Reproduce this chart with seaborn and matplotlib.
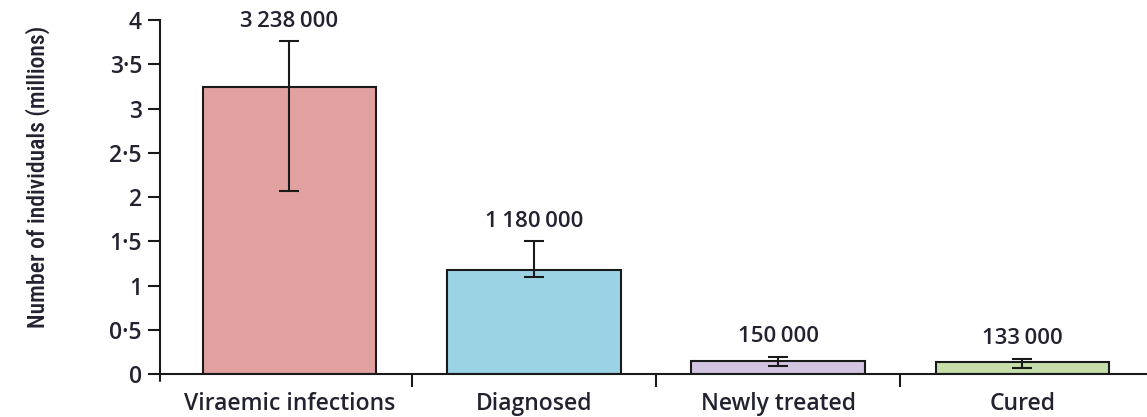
import matplotlib
matplotlib.use("Agg")
import matplotlib.pyplot as plt
from matplotlib import font_manager
import seaborn as sns
import pandas as pd
import numpy as np

# Cascade of care data (number of individuals)
categories = ["Viraemic infections", "Diagnosed", "Newly treated", "Cured"]
counts = [3238000, 1180000, 150000, 133000]
ci_low = [2070000, 1100000, 90000, 72000]
ci_high = [3760000, 1500000, 196000, 174000]
value_labels = ["3\u2009238\u2009000", "1\u2009180\u2009000", "150\u2009000", "133\u2009000"]
bar_colors = ["#E1A1A0", "#9CD3E4", "#D3C4E2", "#C5DEAA"]
y_ticks = [0, 0.5, 1, 1.5, 2, 2.5, 3, 3.5, 4]
y_tick_labels = ["0", "0\u00b75", "1", "1\u00b75", "2", "2\u00b75", "3", "3\u00b75", "4"]

sns.set_theme(style="ticks")
installed = {f.name for f in font_manager.fontManager.ttflist}
narrow = next((f for f in ["Roboto Condensed", "Liberation Sans Narrow", "DejaVu Sans Condensed"]
               if f in installed), "Liberation Sans")
plt.rcParams["font.family"] = ["Open Sans", "DejaVu Sans"]
txt = "#222230"
ink = "#1a1a1a"

df = pd.DataFrame({"stage": categories, "millions": np.array(counts) / 1e6})

fig = plt.figure(figsize=(11.47, 4.17), dpi=100)
ax = fig.add_axes([0.1395, 0.1031, 0.8605, 0.8489])

sns.barplot(data=df, x="stage", y="millions", hue="stage", palette=bar_colors,
            order=categories, width=0.71, saturation=1, edgecolor=ink,
            linewidth=1.5, legend=False, ax=ax)

x = np.arange(len(categories))
vals = np.array(counts) / 1e6
lo = vals - np.array(ci_low) / 1e6
hi = np.array(ci_high) / 1e6 - vals
ax.errorbar(x, vals, yerr=[lo, hi], fmt="none", ecolor=ink,
            elinewidth=1.5, capsize=7, capthick=1.5, zorder=5)

for xi, top, lab in zip(x, np.array(ci_high) / 1e6, value_labels):
    ax.annotate(lab, (xi, top), xytext=(0, 14.5), textcoords="offset points",
                ha="center", va="center", fontsize=16, fontweight="semibold",
                color=txt)

ax.set_xlim(-0.53, 3.51)
ax.set_ylim(0, 4)
ax.set_yticks(y_ticks)
ax.set_yticklabels(y_tick_labels, fontsize=16.5, fontweight="semibold", color=txt)
ax.set_xticks(x)
ax.set_xticklabels(categories, fontsize=16.5, fontweight="semibold", color=txt)
ax.set_xticks(np.arange(1, len(categories)) - 0.5, minor=True)
ax.tick_params(axis="x", which="major", length=0, pad=13)
ax.tick_params(axis="x", which="minor", length=9, width=1.5, direction="out", color=ink)
ax.tick_params(axis="y", length=9, width=1.5, direction="out", color=ink, pad=4)
ax.set_xlabel("")
ax.set_ylabel("")
fig.text(38 / 1147, 1 - 177 / 417, "Number of individuals (millions)",
         rotation=90, ha="center", va="center", fontsize=17,
         fontweight="medium", family=[narrow, "DejaVu Sans"], color=txt)

sns.despine(ax=ax, top=True, right=True)
for s in ("left", "bottom"):
    ax.spines[s].set_linewidth(1.5)
    ax.spines[s].set_color(ink)
    ax.spines[s].set_capstyle("projecting")
# The y axis continues a little below the baseline, like a separator tick
ax.plot([-0.53, -0.53], [0, -0.08], color=ink, lw=1.5, clip_on=False)

fig.savefig("out.png", dpi=100)
